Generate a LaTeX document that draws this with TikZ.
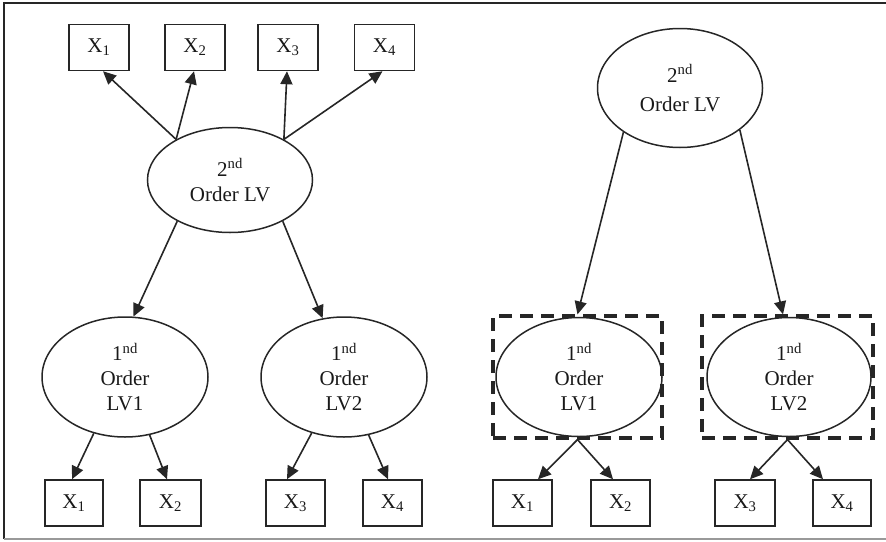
\documentclass[tikz,border=0pt]{standalone}
\usepackage{fontspec}
\setmainfont{Liberation Serif}
\usetikzlibrary{arrows.meta,shapes.geometric,calc}
\newcommand\supnd{\textsuperscript{nd}}
\begin{document}
\begin{tikzpicture}[x=1pt,y=-1pt,
  every node/.style={font=\fontsize{21}{25}\selectfont, text=black!90},
  obs/.style={draw=black!85, line width=1.5pt, minimum width=60pt, minimum height=46pt, inner sep=0pt},
  lv/.style={draw=black!85, ellipse, line width=1.5pt, minimum width=166pt, minimum height=120pt, inner sep=0pt, align=center},
  arr/.style={draw=black!85, line width=1.6pt, -{Triangle[length=13pt,width=12pt]}},
  dbox/.style={draw=black!85, dash pattern=on 13pt off 8pt, line width=3.2pt, minimum width=169pt, minimum height=122pt, inner sep=0pt},
  frameline/.style={draw=black!85, line width=2pt},
  bottomline/.style={draw=black!40, line width=1.2pt}
]
\useasboundingbox (0,0) rectangle (886,541);
% frame
\coordinate (fTR) at (886,3);
\coordinate (fTL) at (4,3);
\coordinate (fBL) at (4,539);
\coordinate (fBR) at (886,539);
\draw[frameline] (fTR) -- (fTL) -- (fBL);
\draw[bottomline] (fBL) -- (fBR);

% ---------- left model ----------
\node[obs] (TX1) at (99,47.5) {X\textsubscript{1}};
\node[obs] (TX2) at (195,47.5) {X\textsubscript{2}};
\node[obs] (TX3) at (288,47.5) {X\textsubscript{3}};
\node[obs] (TX4) at (384.5,47.5) {X\textsubscript{4}};

\node[lv, minimum width=165pt, minimum height=105pt] (L2) at (230,180) {2\supnd\\Order LV};

\node[lv] (LV1) at (125,377) {1\supnd\\Order\\LV1};
\node[lv] (LV2) at (344,377) {1\supnd\\Order\\LV2};

\node[obs, minimum width=58pt] (BX1) at (74,503) {X\textsubscript{1}};
\node[obs, minimum width=61pt] (BX2) at (170.5,503) {X\textsubscript{2}};
\node[obs, minimum width=59pt] (BX3) at (295.5,503) {X\textsubscript{3}};
\node[obs, minimum width=59pt] (BX4) at (392.5,503) {X\textsubscript{4}};

\draw[arr] (L2.143) -- ($(TX1.south)+(4,0)$);
\draw[arr] (L2.143) -- ($(TX2.south)+(-1,0)$);
\draw[arr] (L2.37) -- ($(TX3.south)+(-1,0)$);
\draw[arr] (L2.37) -- ($(TX4.south)+(-2,0)$);

\draw[arr] (L2.218) -- (LV1.82);
\draw[arr] (L2.-38) -- (LV2.110);

\draw[arr] (LV1.241) -- ($(BX1.north)+(-2,0)$);
\draw[arr] (LV1.-67) -- ($(BX2.north)+(-3.5,0)$);
\draw[arr] (LV2.240) -- ($(BX3.north)+(-8.5,0)$);
\draw[arr] (LV2.-67) -- ($(BX4.north)+(-4.5,0)$);

% ---------- right model ----------
\node[lv, minimum width=165pt, minimum height=119pt] (R2) at (680,88) {2\supnd\\[4pt]Order LV};

\node[dbox] (D1) at (577.5,377) {};
\node[dbox, minimum width=171pt] (D2) at (787.5,377) {};
\node[lv, minimum height=119pt] (E1) at (579,377) {1\supnd\\Order\\LV1};
\node[lv, minimum width=164pt, minimum height=119pt] (E2) at (789,377) {1\supnd\\Order\\LV2};

\node[obs, minimum width=59pt] (RX1) at (522.5,503) {X\textsubscript{1}};
\node[obs, minimum width=59pt] (RX2) at (620.5,503) {X\textsubscript{2}};
\node[obs, minimum width=60pt] (RX3) at (745,503) {X\textsubscript{3}};
\node[obs, minimum width=58pt] (RX4) at (842,503) {X\textsubscript{4}};

\draw[arr] (R2.218) -- (D1.north);
\draw[arr] (R2.-35) -- ($(D2.north)+(-4.5,0)$);

\draw[arr] (D1.south) -- ($(RX1.north)+(15.5,0)$);
\draw[arr] (D1.south) -- ($(RX2.north)+(-7.5,0)$);
\draw[arr] (D2.south) -- ($(RX3.north)+(5,0)$);
\draw[arr] (D2.south) -- ($(RX4.north)+(-19,0)$);
\end{tikzpicture}
\end{document}
